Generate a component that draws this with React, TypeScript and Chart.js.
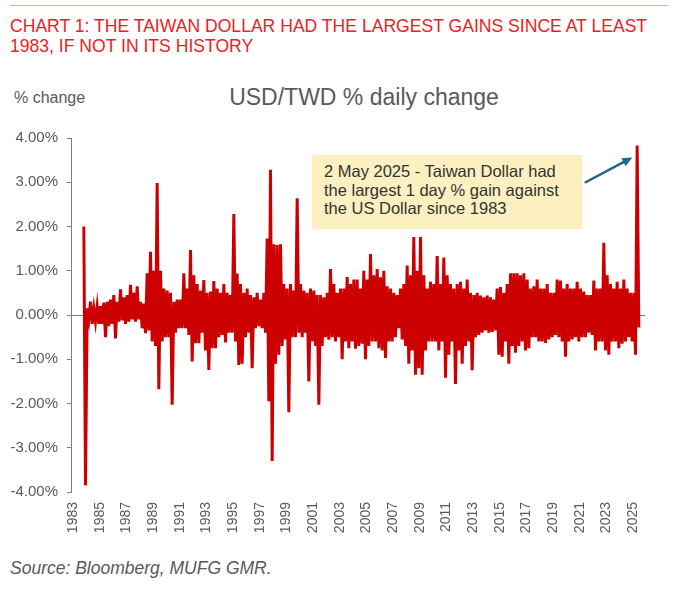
import React, { useEffect, useRef } from "react";
import { Chart, registerables } from "chart.js";

Chart.register(...registerables);

// ---- Data ----
// USD/TWD % daily change, summarised per quarter as the quarter's
// largest positive and largest negative daily move.
const firstQuarterStart = 1983.75; // Q4 1983
const quarterLength = 0.25;

const quarterHighs: number[] = [
  2.0, // 1983 Q4
  0.15, 0.3, 0.15, 0.2, // 1984
  0.2, 0.28, 0.3, 0.35, // 1985
  0.45, 0.3, 0.58, 0.4, // 1986
  0.45, 0.68, 0.5, 0.65, // 1987
  0.3, 0.26, 0.94, 1.43, // 1988
  1.0, 2.98, 1.0, 0.6, // 1989
  0.55, 0.5, 0.3, 0.35, // 1990
  0.35, 0.94, 0.6, 1.47, // 1991
  0.9, 0.7, 0.55, 0.79, // 1992
  0.5, 0.53, 0.77, 0.6, // 1993
  0.5, 0.7, 0.5, 0.45, // 1994
  2.28, 0.94, 0.7, 0.5, // 1995
  0.6, 0.45, 0.4, 0.5, // 1996
  0.35, 0.5, 1.73, 3.28, // 1997
  1.6, 1.58, 1.6, 0.7, // 1998
  0.6, 0.7, 0.55, 2.64, // 1999
  0.7, 0.55, 0.5, 0.6, // 2000
  0.55, 0.45, 0.45, 0.4, // 2001
  0.5, 1.04, 0.7, 0.5, // 2002
  0.6, 0.6, 0.86, 0.7, // 2003
  0.8, 0.8, 0.6, 1.0, // 2004
  0.8, 1.38, 0.9, 1.04, // 2005
  0.85, 1.0, 0.65, 0.6, // 2006
  0.5, 0.45, 0.6, 0.7, // 2007
  1.12, 0.9, 1.76, 1.0, // 2008
  1.76, 0.9, 0.6, 0.75, // 2009
  0.7, 1.33, 0.7, 1.3, // 2010
  0.9, 0.7, 0.6, 0.7, // 2011
  0.75, 0.6, 0.8, 0.5, // 2012
  0.45, 0.5, 0.44, 0.4, // 2013
  0.44, 0.4, 0.35, 0.6, // 2014
  0.63, 0.5, 0.7, 0.94, // 2015
  0.94, 0.94, 0.9, 0.94, // 2016
  0.8, 0.6, 0.65, 0.8, // 2017
  0.6, 0.6, 0.7, 0.5, // 2018
  0.5, 0.8, 0.78, 0.6, // 2019
  0.7, 0.6, 0.6, 0.75, // 2020
  0.6, 0.53, 0.45, 0.45, // 2021
  0.78, 0.6, 0.6, 1.63, // 2022
  0.9, 0.7, 0.6, 0.75, // 2023
  0.6, 0.8, 0.6, 0.5, // 2024
  0.5, 3.83, // 2025
];

const quarterLows: number[] = [
  -3.85, // 1983 Q4
  -0.1, -0.2, -0.15, -0.2, // 1984
  -0.2, -0.5, -0.25, -0.2, // 1985
  -0.53, -0.15, -0.12, -0.2, // 1986
  -0.15, -0.1, -0.15, -0.1, // 1987
  -0.3, -0.41, -0.35, -0.6, // 1988
  -0.7, -1.68, -0.6, -0.5, // 1989
  -0.5, -2.03, -0.4, -0.3, // 1990
  -0.3, -0.3, -0.45, -1.05, // 1991
  -0.64, -0.64, -0.4, -0.8, // 1992
  -1.24, -0.75, -0.75, -0.5, // 1993
  -0.45, -0.62, -0.4, -0.4, // 1994
  -0.6, -1.13, -1.1, -0.5, // 1995
  -0.4, -1.2, -0.3, -0.25, // 1996
  -0.3, -0.4, -1.95, -3.3, // 1997
  -1.1, -0.9, -0.7, -0.55, // 1998
  -2.2, -0.5, -0.5, -0.4, // 1999
  -0.5, -0.4, -1.5, -0.6, // 2000
  -0.7, -2.03, -0.7, -0.5, // 2001
  -0.56, -0.5, -0.6, -0.5, // 2002
  -1.0, -0.6, -0.75, -0.6, // 2003
  -0.76, -0.7, -0.65, -1.0, // 2004
  -0.7, -0.6, -0.6, -0.75, // 2005
  -0.8, -0.97, -0.6, -0.6, // 2006
  -0.5, -0.3, -0.55, -0.7, // 2007
  -1.1, -0.8, -1.35, -1.2, // 2008
  -1.35, -0.8, -0.6, -0.6, // 2009
  -0.6, -0.8, -0.6, -1.42, // 2010
  -0.9, -0.6, -1.56, -0.8, // 2011
  -1.1, -0.7, -0.6, -1.25, // 2012
  -0.5, -0.45, -0.4, -0.35, // 2013
  -0.4, -0.38, -0.35, -0.9, // 2014
  -0.94, -0.6, -1.1, -0.7, // 2015
  -0.85, -0.7, -0.6, -0.8, // 2016
  -0.75, -0.5, -0.5, -0.6, // 2017
  -0.6, -0.63, -0.55, -0.5, // 2018
  -0.45, -0.5, -0.6, -0.94, // 2019
  -0.6, -0.55, -0.5, -0.6, // 2020
  -0.5, -0.5, -0.4, -0.45, // 2021
  -0.8, -0.6, -0.6, -0.8, // 2022
  -0.9, -0.6, -0.6, -0.75, // 2023
  -0.65, -0.6, -0.5, -0.6, // 2024
  -0.9, -0.28, // 2025
];

const xTickYears: number[] = [
  1983, 1985, 1987, 1989, 1991, 1993, 1995, 1997, 1999, 2001, 2003,
  2005, 2007, 2009, 2011, 2013, 2015, 2017, 2019, 2021, 2023, 2025,
];
const yTickValues: number[] = [-4, -3, -2, -1, 0, 1, 2, 3, 4];

const titleText = [
  "CHART 1: THE TAIWAN DOLLAR HAD THE LARGEST GAINS SINCE AT LEAST",
  "1983, IF NOT IN ITS HISTORY",
];
const chartTitle = "USD/TWD % daily change";
const yAxisLabel = "% change";
const annotationLines = [
  "2 May 2025 - Taiwan Dollar had",
  "the largest 1 day % gain against",
  "the US Dollar since 1983",
];
const sourceText = "Source: Bloomberg, MUFG GMR.";

// arrow in data coordinates
const arrowFrom = { x: 2021.45, y: 3.0 };
const arrowTo = { x: 2024.95, y: 3.56 };

const FONT = "'Liberation Sans', Arial, Helvetica, sans-serif";
const GREY = "#595959";
const LINE_RED = "#cc0000";

function buildPoints() {
  const pts: { x: number; y: number }[] = [];
  for (let i = 0; i < quarterHighs.length; i++) {
    const q = firstQuarterStart + i * quarterLength;
    pts.push({ x: q + quarterLength * 0.25, y: quarterHighs[i] });
    pts.push({ x: q + quarterLength * 0.75, y: quarterLows[i] });
  }
  return pts;
}

const arrowPlugin = {
  id: "arrowAnnotation",
  afterDatasetsDraw(chart: any) {
    const { ctx, scales } = chart;
    const xs = scales.x;
    const ys = scales.y;
    const x1 = xs.getPixelForValue(arrowFrom.x);
    const y1 = ys.getPixelForValue(arrowFrom.y);
    const x2 = xs.getPixelForValue(arrowTo.x);
    const y2 = ys.getPixelForValue(arrowTo.y);
    const ang = Math.atan2(y2 - y1, x2 - x1);
    const head = 10;
    const hw = 4.5;
    const bx = x2 - head * Math.cos(ang);
    const by = y2 - head * Math.sin(ang);
    ctx.save();
    ctx.strokeStyle = "#1f6689";
    ctx.fillStyle = "#1f6689";
    ctx.lineWidth = 2.5;
    ctx.lineCap = "round";
    ctx.beginPath();
    ctx.moveTo(x1, y1);
    ctx.lineTo(bx, by);
    ctx.stroke();
    ctx.beginPath();
    ctx.moveTo(x2, y2);
    ctx.lineTo(bx + hw * Math.sin(ang), by - hw * Math.cos(ang));
    ctx.lineTo(bx - hw * Math.sin(ang), by + hw * Math.cos(ang));
    ctx.closePath();
    ctx.fill();
    ctx.restore();
  },
};

function ChartCanvas() {
  const ref = useRef<HTMLCanvasElement | null>(null);
  useEffect(() => {
    if (!ref.current) return;
    const chart = new Chart(ref.current, {
      type: "line",
      data: {
        datasets: [
          {
            label: chartTitle,
            data: buildPoints(),
            borderColor: LINE_RED,
            backgroundColor: LINE_RED,
            borderWidth: 3,
            pointRadius: 0,
            tension: 0,
            borderJoinStyle: "miter",
          },
        ],
      },
      options: {
        animation: false,
        responsive: false,
        maintainAspectRatio: false,
        parsing: false,
        normalized: true,
        layout: { padding: { top: 17, right: 37, bottom: 0, left: 0 } },
        plugins: {
          legend: { display: false },
          title: { display: false },
          tooltip: { enabled: false },
        },
        scales: {
          x: {
            type: "linear",
            min: 1982.85,
            max: 2025.9,
            grid: { display: false, drawTicks: false },
            border: { display: false },
            afterBuildTicks: (s: any) => {
              s.ticks = xTickYears.map((v) => ({ value: v }));
            },
            ticks: {
              autoSkip: false,
              minRotation: 90,
              maxRotation: 90,
              padding: 10,
              color: GREY,
              font: { family: FONT, size: 14 },
              callback: (v: any) => String(v),
            },
            afterFit: (s: any) => {
              s.height = 58;
            },
          },
          y: {
            type: "linear",
            min: -4,
            max: 4,
            afterBuildTicks: (s: any) => {
              s.ticks = yTickValues.map((v) => ({ value: v }));
            },
            ticks: {
              padding: 9,
              color: GREY,
              font: { family: FONT, size: 15 },
              callback: (v: any) => Number(v).toFixed(2) + "%",
            },
            grid: {
              color: (c: any) =>
                c.tick && c.tick.value === 0 ? "#7f7f7f" : "rgba(0,0,0,0)",
              tickColor: "#7f7f7f",
              tickLength: 4,
              lineWidth: 1,
              drawTicks: true,
            },
            border: { display: true, color: "#7f7f7f", width: 1 },
            afterFit: (s: any) => {
              s.width = 71;
            },
          },
        },
      },
      plugins: [arrowPlugin],
    } as any);
    return () => chart.destroy();
  }, []);
  return <canvas ref={ref} width={682} height={430} style={{ display: "block" }} />;
}

export default function App() {
  return (
    <div
      style={{
        position: "absolute",
        left: 0,
        top: 0,
        width: 682,
        height: 589,
        background: "#ffffff",
        fontFamily: FONT,
        overflow: "hidden",
      }}
    >
      <div
        style={{
          position: "absolute",
          left: 10,
          top: 5,
          width: 658,
          height: 1,
          background: "#f4a3a8",
        }}
      />
      <div
        style={{
          position: "absolute",
          left: 10,
          top: 16,
          fontSize: 19,
          lineHeight: "20px",
          color: "#ee1c25",
          whiteSpace: "nowrap",
          transform: "scaleX(0.925)",
          transformOrigin: "0 0",
        }}
      >
        {titleText.map((t, i) => (
          <div key={i}>{t}</div>
        ))}
      </div>
      <div
        style={{
          position: "absolute",
          left: 14,
          top: 89,
          fontSize: 16,
          color: GREY,
          whiteSpace: "nowrap",
        }}
      >
        {yAxisLabel}
      </div>
      <div
        style={{
          position: "absolute",
          left: 0,
          width: 728,
          top: 84,
          textAlign: "center",
          fontSize: 23,
          color: GREY,
          whiteSpace: "nowrap",
        }}
      >
        {chartTitle}
      </div>
      <div style={{ position: "absolute", left: 0, top: 120, width: 682, height: 430 }}>
        <ChartCanvas />
      </div>
      <div
        style={{
          position: "absolute",
          left: 312,
          top: 155,
          width: 270,
          height: 74,
          background: "#fcf0c0",
          boxSizing: "border-box",
          padding: "7px 0 0 12px",
          fontSize: 16.5,
          lineHeight: "18.5px",
          color: "#333333",
          whiteSpace: "nowrap",
        }}
      >
        {annotationLines.map((t, i) => (
          <div key={i}>{t}</div>
        ))}
      </div>
      <div
        style={{
          position: "absolute",
          left: 10,
          top: 558,
          fontSize: 17.5,
          fontStyle: "italic",
          color: GREY,
          whiteSpace: "nowrap",
        }}
      >
        {sourceText}
      </div>
    </div>
  );
}
